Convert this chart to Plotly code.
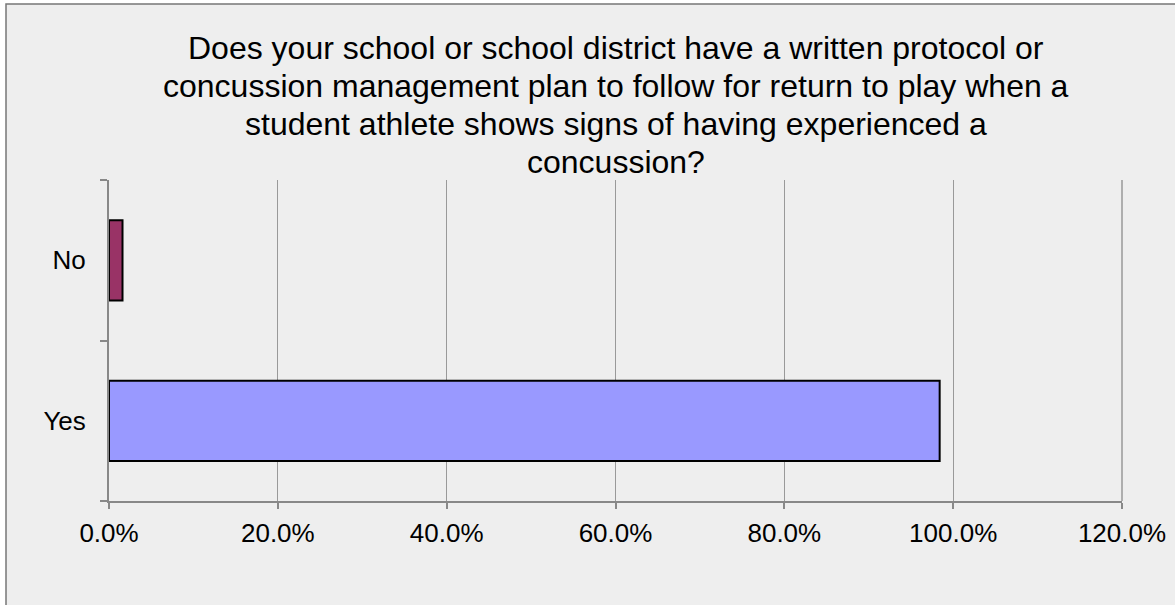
import plotly.graph_objects as go

# Survey responses (share of respondents)
categories = ["Yes", "No"]
shares = [0.984, 0.016]
bar_colors = ["#9999FF", "#993366"]

title_lines = [
    "Does your school or school district have a written protocol or",
    "concussion management plan to follow for return to play when a",
    "student athlete shows signs of having experienced a",
    "concussion?",
]

W, H = 1175, 605
L, R, T, B = 109, 53, 180, 104
pw, ph = W - L - R, H - T - B

def px_x(x):
    return (x - L) / pw

def px_y(y):
    return (H - B - y) / ph

fig = go.Figure(
    go.Bar(
        y=categories,
        x=shares,
        orientation="h",
        width=0.5,
        marker=dict(color=bar_colors, line=dict(color="#000000", width=2)),
        hoverinfo="x+y",
    )
)

font = "Liberation Sans, Arial, sans-serif"

# Title lines placed one by one for a tighter line spacing
title_annotations = []
line_centers = [48, 86.5, 123.5, 162]
for text, yc in zip(title_lines, line_centers):
    title_annotations.append(
        dict(
            text=text,
            xref="paper",
            yref="paper",
            x=0.5,
            y=px_y(yc),
            xanchor="center",
            yanchor="middle",
            showarrow=False,
            font=dict(size=32, family=font, color="#000000"),
        )
    )

fig.update_layout(
    width=W,
    height=H,
    margin=dict(l=L, r=R, t=T, b=B, autoexpand=False),
    paper_bgcolor="#FFFFFF",
    plot_bgcolor="rgba(0,0,0,0)",
    font=dict(family=font, color="#000000"),
    showlegend=False,
    xaxis=dict(
        range=[0, 1.2],
        dtick=0.2,
        tick0=0,
        tickformat=".1%",
        showgrid=True,
        gridcolor="#999999",
        gridwidth=1,
        zeroline=False,
        showline=True,
        linecolor="#888888",
        linewidth=2,
        ticks="outside",
        ticklen=6,
        tickcolor="#888888",
        tickwidth=1.5,
        tickfont=dict(size=26, family=font, color="#000000"),
        ticklabelstandoff=2,
        automargin=False,
    ),
    yaxis=dict(
        type="category",
        categoryorder="array",
        categoryarray=categories,
        range=[-0.5, 1.5],
        showgrid=False,
        zeroline=False,
        showline=True,
        linecolor="#888888",
        linewidth=2,
        ticks="outside",
        tickson="boundaries",
        ticklen=7,
        tickcolor="#888888",
        tickwidth=1.5,
        tickfont=dict(size=26, family=font, color="#000000"),
        ticklabelstandoff=16,
        automargin=False,
    ),
    shapes=[
        # chart frame with its light gray fill
        dict(
            type="rect",
            xref="paper",
            yref="paper",
            x0=px_x(6),
            x1=px_x(W + 10),
            y0=px_y(H + 10),
            y1=px_y(4),
            fillcolor="#EEEEEE",
            line=dict(color="#777777", width=1.5),
            layer="below",
        ),
        # last gridline, on the right edge of the plot area
        dict(
            type="line",
            xref="paper",
            yref="paper",
            x0=1,
            x1=1,
            y0=0,
            y1=1,
            line=dict(color="#999999", width=1.5),
            layer="below",
        ),
    ],
    annotations=title_annotations,
)

fig.write_html("out.html")
